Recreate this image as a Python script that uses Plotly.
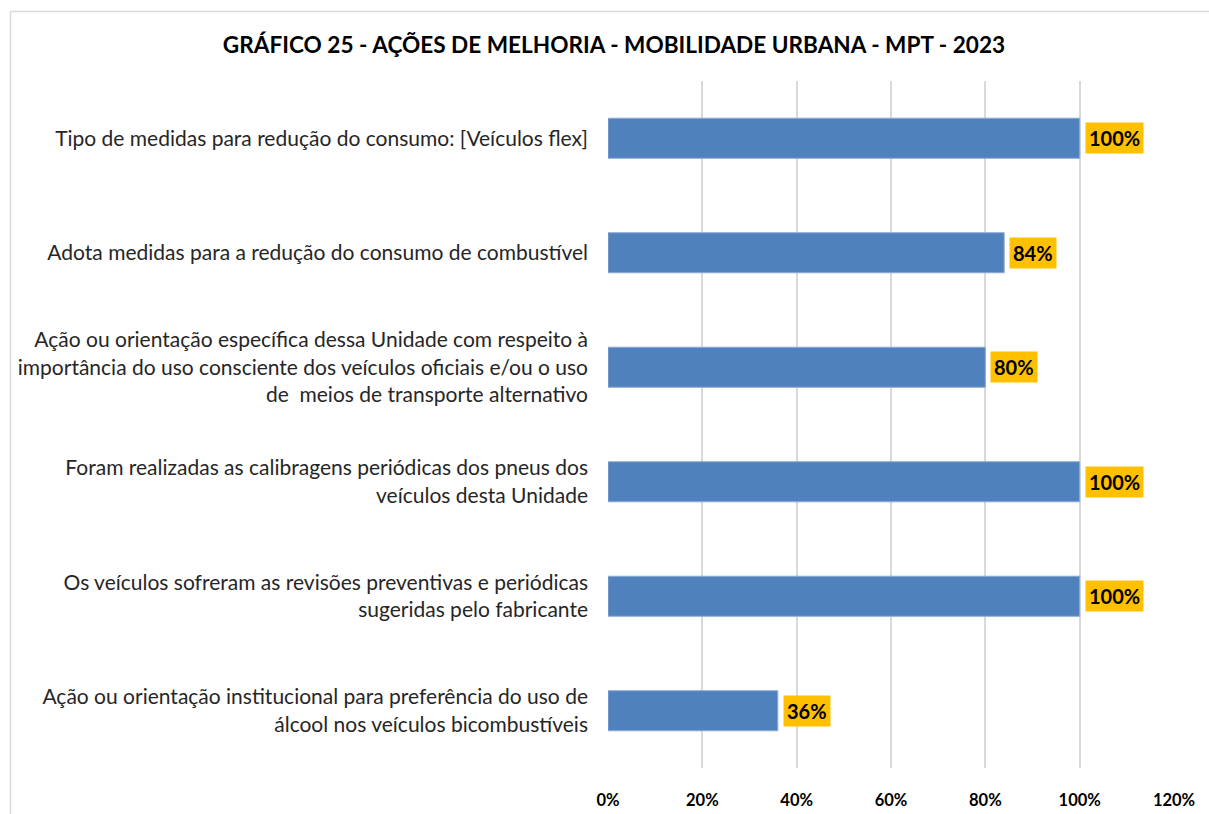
import plotly.graph_objects as go

categories = [
    "Tipo de medidas para redução do consumo: [Veículos flex]",
    "Adota medidas para a redução do consumo de combustível",
    "Ação ou orientação específica dessa Unidade com respeito à<br>importância do uso consciente dos veículos oficiais e/ou o uso<br>de  meios de transporte alternativo",
    "Foram realizadas as calibragens periódicas dos pneus dos<br>veículos desta Unidade",
    "Os veículos sofreram as revisões preventivas e periódicas<br>sugeridas pelo fabricante",
    "Ação ou orientação institucional para preferência do uso de<br>álcool nos veículos bicombustíveis",
]
values = [1.00, 0.84, 0.80, 1.00, 1.00, 0.36]
labels = ["100%", "84%", "80%", "100%", "100%", "36%"]
tick_vals = [0, 0.2, 0.4, 0.6, 0.8, 1.0, 1.2]
tick_text = ["0%", "20%", "40%", "60%", "80%", "100%", "120%"]
title = "GRÁFICO 25 - AÇÕES DE MELHORIA - MOBILIDADE URBANA - MPT - 2023"

FONT = "Lato"
W, H = 1209, 814
L, R, T, B = 608, 35, 81, 46
PW, PH = W - L - R, H - T - B

fig = go.Figure()
fig.add_trace(go.Bar(
    y=categories, x=values, orientation="h",
    marker=dict(color="#4F81BD", line=dict(color="#8EAAD6", width=1)),
    width=0.35, showlegend=False, hoverinfo="skip",
))

for c, v, t in zip(categories, values, labels):
    fig.add_annotation(
        x=v, y=c, text="<b>" + t + "</b>", showarrow=False,
        xanchor="left", xshift=5, bgcolor="#FFC000",
        font=dict(family=FONT, size=20, color="black"),
        borderpad=3,
    )

fig.update_layout(
    width=W, height=H,
    paper_bgcolor="white", plot_bgcolor="white",
    margin=dict(l=L, r=R, t=T, b=B, autoexpand=False),
    title=dict(text="<b>" + title + "</b>", x=614 / W, xanchor="center",
               y=1 - 45 / H, yanchor="middle",
               font=dict(family=FONT, size=22.6, color="black")),
    xaxis=dict(range=[0, 1.2], tickvals=tick_vals, ticktext=tick_text,
               showgrid=True, gridcolor="#D9D9D9", gridwidth=2,
               zeroline=False, showline=False, automargin=False,
               tickfont=dict(family=FONT, size=16.5, color="black", weight="bold"),
               ticklabelstandoff=20, fixedrange=True),
    yaxis=dict(autorange="reversed", showgrid=False, zeroline=False,
               automargin=False,
               tickfont=dict(family=FONT, size=21, color="#262626"),
               ticklabelstandoff=19, fixedrange=True),
    shapes=[dict(type="rect", xref="paper", yref="paper",
                 x0=(10.5 - L) / PW, x1=(W + 10 - L) / PW,
                 y0=-(H + 10 - T - PH) / PH, y1=1 + (T - 11.5) / PH,
                 line=dict(color="#D9D9D9", width=1.5))],
)

fig.write_html("out.html", config={"displayModeBar": False},
               post_script="document.body.style.margin='0';")
